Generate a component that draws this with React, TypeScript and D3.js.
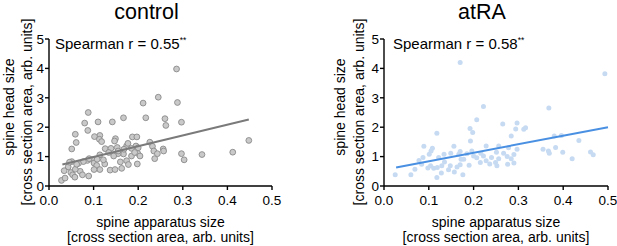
import React from "react";
import * as d3 from "d3";

const W = 617, H = 246;

const ctrlX = [0.286,0.245,0.288,0.211,0.088,0.167,0.217,0.260,0.262,0.297,0.110,0.142,0.080,0.087,0.059,0.114,0.102,0.113,0.118,0.149,0.147,0.187,0.197,0.061,0.051,0.448,0.226,0.126,0.139,0.153,0.174,0.177,0.185,0.195,0.232,0.256,0.257,0.235,0.199,0.167,0.297,0.343,0.412,0.303,0.237,0.243,0.174,0.160,0.178,0.198,0.155,0.134,0.114,0.098,0.101,0.107,0.114,0.101,0.125,0.122,0.137,0.148,0.163,0.086,0.077,0.066,0.051,0.043,0.034,0.028,0.036,0.049,0.053,0.058,0.070,0.075,0.089,0.059,0.200,0.155,0.062,0.046,0.108,0.145,0.185,0.204,0.168,0.192,0.090];
const ctrlY = [3.98,3.02,2.84,2.82,2.50,2.32,2.32,2.29,2.06,2.17,2.18,2.18,2.14,1.89,1.76,1.72,1.68,1.59,1.51,1.61,1.53,1.67,1.67,1.48,1.26,1.55,1.49,1.27,1.28,1.31,1.36,1.45,1.28,1.36,1.35,1.26,1.19,1.19,1.11,1.09,1.10,1.07,1.15,0.89,0.93,1.10,0.86,0.82,0.73,0.75,1.10,1.14,1.06,0.89,0.78,0.70,0.56,0.56,0.75,0.89,0.54,0.56,0.60,0.87,0.83,0.77,0.83,0.65,0.52,0.19,0.27,0.46,0.38,0.30,0.50,0.38,0.34,0.57,1.30,1.19,0.74,0.81,0.91,1.02,1.02,1.02,1.25,1.14,0.93];
const ctrlFit = [[0.03, 0.73], [0.448, 2.26]];

const atraX = [0.170,0.493,0.222,0.368,0.207,0.265,0.297,0.316,0.312,0.294,0.192,0.198,0.118,0.284,0.380,0.396,0.435,0.089,0.108,0.156,0.228,0.256,0.193,0.355,0.367,0.369,0.383,0.399,0.420,0.461,0.467,0.278,0.290,0.297,0.251,0.240,0.256,0.216,0.207,0.215,0.185,0.178,0.190,0.172,0.167,0.149,0.134,0.135,0.148,0.163,0.157,0.176,0.144,0.128,0.118,0.104,0.111,0.119,0.101,0.105,0.078,0.084,0.069,0.060,0.025,0.098,0.275,0.284,0.276,0.290,0.249,0.252,0.228,0.200,0.222,0.267,0.196,0.170,0.087,0.122,0.129,0.170,0.236];
const atraY = [4.20,3.82,2.70,2.65,2.25,2.11,2.14,1.98,1.93,1.94,1.96,1.82,1.79,1.70,1.70,1.72,1.55,1.35,1.28,1.35,1.36,1.36,1.53,1.25,1.19,1.11,1.31,1.15,0.93,1.16,1.06,1.30,1.07,1.25,1.15,0.97,0.93,1.11,0.96,0.80,1.10,0.91,0.71,0.91,1.08,1.11,1.08,0.82,0.69,0.65,0.48,0.38,0.55,0.44,0.29,0.69,0.60,0.63,1.08,1.19,0.87,0.74,0.57,0.38,0.38,0.61,1.00,0.93,0.74,0.78,0.80,0.69,0.86,1.02,1.02,1.11,1.19,1.17,0.97,0.97,0.69,0.72,0.75];
const atraFit = [[0.027, 0.63], [0.5, 2.0]];

const xTicks = [0, 0.1, 0.2, 0.3, 0.4, 0.5];
const yTicks = [0, 1, 2, 3, 4, 5];
const titles = ["control", "atRA"];
const rValues = ["0.55", "0.58"];
const xLabel = ["spine apparatus size", "[cross section area, arb. units]"];
const yLabel = ["spine head size", "[cross section area, arb. units]"];

const FONT = "'Liberation Sans', Arial, sans-serif";

type PanelProps = {
  left: number; right: number; top: number; bottom: number;
  title: string; r: string; xs: number[]; ys: number[]; fit: number[][];
  dotFill: string; dotStroke: string; dotR: number; lineColor: string;
  yl1: number; yl2: number; rx: number;
};

function Panel(p: PanelProps) {
  const x = d3.scaleLinear().domain([0, 0.5]).range([p.left, p.right]);
  const y = d3.scaleLinear().domain([0, 5]).range([p.bottom, p.top]);
  const line = d3.line<number[]>().x(d => x(d[0])).y(d => y(d[1]));
  const cx = (p.left + p.right) / 2;
  return (
    <g fontFamily={FONT} fill="#000">
      <text x={cx - 14} y={19} fontSize={21.5} textAnchor="middle">{p.title}</text>
      {p.xs.map((v, i) => (
        <circle key={i} cx={x(v)} cy={y(p.ys[i])} r={p.dotR} fill={p.dotFill}
          stroke={p.dotStroke} strokeWidth={p.dotStroke === "none" ? 0 : 0.9} />
      ))}
      <path d={line(p.fit) || ""} stroke={p.lineColor} strokeWidth={2} fill="none" />
      <line x1={p.left} x2={p.left} y1={p.top} y2={p.bottom} stroke="#000" strokeWidth={1.4} />
      <line x1={p.left} x2={p.right} y1={p.bottom} y2={p.bottom} stroke="#000" strokeWidth={1.4} />
      {yTicks.map(t => (
        <g key={"y" + t}>
          <line x1={p.left - 4} x2={p.left} y1={y(t)} y2={y(t)} stroke="#000" strokeWidth={1.4} />
          <text x={p.left - 5} y={y(t)} dy="0.36em" fontSize={13.5} textAnchor="end">{t}</text>
        </g>
      ))}
      {xTicks.map(t => (
        <g key={"x" + t}>
          <line x1={x(t)} x2={x(t)} y1={p.bottom} y2={p.bottom + 4} stroke="#000" strokeWidth={1.4} />
          <text x={x(t)} y={p.bottom + 19} fontSize={13.5} textAnchor="middle">{d3.format(".1f")(t)}</text>
        </g>
      ))}
      <text x={p.left + p.rx} y={49} fontSize={15}>
        Spearman r = {p.r}<tspan fontSize={8.5} dy={-6}>**</tspan>
      </text>
      <text x={cx} y={227} fontSize={14} textAnchor="middle">{xLabel[0]}</text>
      <text x={cx} y={242} fontSize={14} textAnchor="middle">{xLabel[1]}</text>
      <text transform={`translate(${p.left + p.yl1},107) rotate(-90)`} fontSize={14} textAnchor="middle">{yLabel[0]}</text>
      <text transform={`translate(${p.left + p.yl2},112) rotate(-90)`} fontSize={14} textAnchor="middle">{yLabel[1]}</text>
    </g>
  );
}

export default function App() {
  return (
    <svg width={W} height={H} style={{ position: "absolute", left: 0, top: 0, background: "#fff" }}>
      <rect width={W} height={H} fill="#fff" />
      <Panel left={49} right={272} top={39} bottom={186} title={titles[0]} r={rValues[0]}
        xs={ctrlX} ys={ctrlY} fit={ctrlFit} dotFill="#c9c9c9" dotStroke="#8a8a8a" dotR={2.9} lineColor="#7a7a7a"
        yl1={-35} yl2={-17} rx={6} />
      <Panel left={384} right={608} top={39} bottom={186} title={titles[1]} r={rValues[1]}
        xs={atraX} ys={atraY} fit={atraFit} dotFill="#c6daf2" dotStroke="none" dotR={2.5} lineColor="#4a90e2"
        yl1={-39} yl2={-20} rx={9} />
    </svg>
  );
}
